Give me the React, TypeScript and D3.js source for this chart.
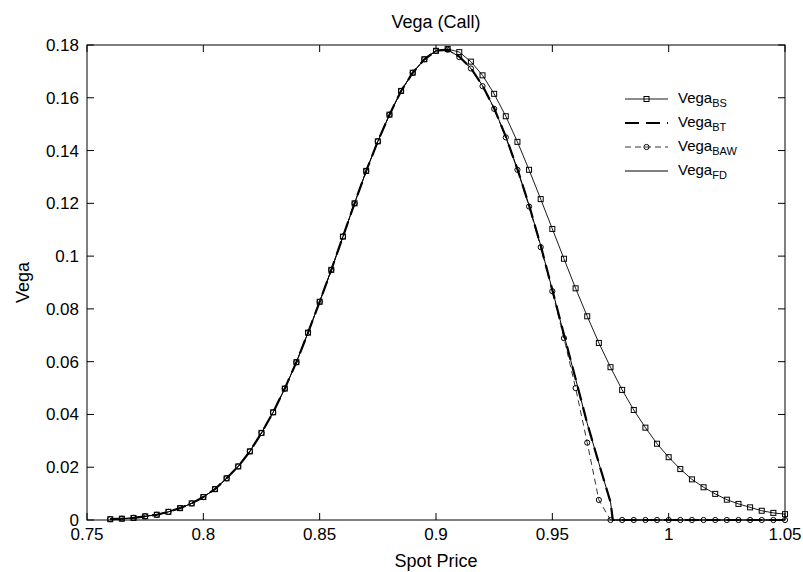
import React from "react";
import * as d3 from "d3";

const spotPrices = [
  0.76, 0.765, 0.77, 0.775, 0.78, 0.785, 0.79, 0.795, 0.8, 0.805, 0.81, 0.815, 0.82, 0.825, 0.83,
  0.835, 0.84, 0.845, 0.85, 0.855, 0.86, 0.865, 0.87, 0.875, 0.88, 0.885, 0.89, 0.895, 0.9, 0.905,
  0.91, 0.915, 0.92, 0.925, 0.93, 0.935, 0.94, 0.945, 0.95, 0.955, 0.96, 0.965, 0.97, 0.975, 0.98,
  0.985, 0.99, 0.995, 1.0, 1.005, 1.01, 1.015, 1.02, 1.025, 1.03, 1.035, 1.04, 1.045, 1.05,
];

const vegaBS = [
  0.0003, 0.0005, 0.0008, 0.0014, 0.002, 0.0031, 0.0045, 0.0063, 0.0087, 0.0117, 0.0158, 0.0203, 0.026, 0.033, 0.0408,
  0.0498, 0.0598, 0.071, 0.0827, 0.0948, 0.1074, 0.12, 0.1323, 0.1435, 0.1536, 0.1626, 0.1695, 0.1746, 0.1778, 0.1785,
  0.1773, 0.1737, 0.1685, 0.1615, 0.153, 0.1433, 0.1327, 0.1216, 0.1103, 0.099, 0.0878, 0.0772, 0.0671, 0.0579, 0.0493,
  0.0417, 0.035, 0.0289, 0.0238, 0.0193, 0.0154, 0.0124, 0.0099, 0.0077, 0.0061, 0.0048, 0.0035, 0.0027, 0.0022,
];

const vegaBAW = [
  0.0003, 0.0005, 0.0008, 0.0014, 0.002, 0.0031, 0.0045, 0.0063, 0.0087, 0.0117, 0.0158, 0.0203, 0.026, 0.033, 0.0408,
  0.0498, 0.0598, 0.071, 0.0827, 0.0948, 0.1074, 0.12, 0.1323, 0.1435, 0.1536, 0.1626, 0.1695, 0.1746, 0.1778, 0.1782,
  0.1754, 0.1711, 0.1644, 0.1558, 0.145, 0.1327, 0.1188, 0.1034, 0.0867, 0.0689, 0.05, 0.0293, 0.0076, 0, 0,
  0, 0, 0, 0, 0, 0, 0, 0, 0, 0, 0, 0, 0, 0,
];

const fdSpots = [
  0.76, 0.765, 0.77, 0.775, 0.78, 0.785, 0.79, 0.795, 0.8, 0.805, 0.81, 0.815, 0.82, 0.825, 0.83,
  0.835, 0.84, 0.845, 0.85, 0.855, 0.86, 0.865, 0.87, 0.875, 0.88, 0.885, 0.89, 0.895, 0.9, 0.905,
  0.91, 0.915, 0.92, 0.925, 0.93, 0.935, 0.94, 0.945, 0.95, 0.955, 0.96, 0.965, 0.97, 0.975, 0.976,
  0.98, 0.985, 0.99, 0.995, 1.0, 1.005, 1.01, 1.015, 1.02, 1.025, 1.03, 1.035, 1.04, 1.045, 1.05,
];

const vegaBT = [
  0.0003, 0.0005, 0.0008, 0.0014, 0.002, 0.0031, 0.0045, 0.0063, 0.0087, 0.0117, 0.0158, 0.0203, 0.026, 0.033, 0.0408,
  0.0498, 0.0598, 0.071, 0.0827, 0.0948, 0.1074, 0.12, 0.1323, 0.1435, 0.1536, 0.1626, 0.1695, 0.1746, 0.1778, 0.1782,
  0.1756, 0.1712, 0.1646, 0.156, 0.1453, 0.133, 0.1193, 0.104, 0.0872, 0.0702, 0.0535, 0.0366, 0.0215, 0.0068, 0,
  0, 0, 0, 0, 0, 0, 0, 0, 0, 0, 0, 0, 0, 0, 0,
];

const vegaFD = [
  0.0003, 0.0005, 0.0008, 0.0014, 0.002, 0.0031, 0.0045, 0.0063, 0.0087, 0.0117, 0.0158, 0.0203, 0.026, 0.033, 0.0408,
  0.0498, 0.0598, 0.071, 0.0827, 0.0948, 0.1074, 0.12, 0.1323, 0.1435, 0.1536, 0.1626, 0.1695, 0.1746, 0.1778, 0.1782,
  0.1756, 0.1712, 0.1646, 0.156, 0.1453, 0.133, 0.1193, 0.104, 0.0872, 0.0702, 0.0535, 0.0366, 0.0215, 0.0068, 0,
  0, 0, 0, 0, 0, 0, 0, 0, 0, 0, 0, 0, 0, 0, 0,
];

const xTicks = [0.75, 0.8, 0.85, 0.9, 0.95, 1, 1.05];
const yTicks = [0, 0.02, 0.04, 0.06, 0.08, 0.1, 0.12, 0.14, 0.16, 0.18];

const W = 803;
const H = 572;
const L = 87;
const R = 785;
const T = 45;
const B = 520;
const FONT = "'Liberation Sans', Arial, Helvetica, sans-serif";

export default function App() {
  const x = d3.scaleLinear().domain([0.75, 1.05]).range([L, R]);
  const y = d3.scaleLinear().domain([0, 0.18]).range([B, T]);
  const line = d3
    .line<[number, number]>()
    .x((d) => x(d[0]))
    .y((d) => y(d[1]));

  const bsPts = spotPrices.map((s, i) => [s, vegaBS[i]] as [number, number]);
  const bawPts = spotPrices.map((s, i) => [s, vegaBAW[i]] as [number, number]);
  const btPts = fdSpots.map((s, i) => [s, vegaBT[i]] as [number, number]);
  const fdPts = fdSpots.map((s, i) => [s, vegaFD[i]] as [number, number]);

  const fmt = (v: number) => String(v);
  const tickLen = 7;
  const sq = 5;

  const legendItems = [
    { name: "BS", kind: "bs" },
    { name: "BT", kind: "bt" },
    { name: "BAW", kind: "baw" },
    { name: "FD", kind: "fd" },
  ];
  const legX1 = 625;
  const legX2 = 668;
  const legTx = 678;
  const legY0 = 99;
  const legDy = 24;

  return (
    <svg
      width={W}
      height={H}
      style={{ position: "absolute", left: 0, top: 0, background: "#fff" }}
      fontFamily={FONT}
    >
      <rect x={0} y={0} width={W} height={H} fill="#fff" />
      {/* series */}
      <path d={line(bsPts) || ""} fill="none" stroke="#000" strokeWidth={0.9} />
      {bsPts.map((p, i) => (
        <rect
          key={"s" + i}
          x={x(p[0]) - sq / 2}
          y={y(p[1]) - sq / 2}
          width={sq}
          height={sq}
          fill="none"
          stroke="#000"
          strokeWidth={1}
        />
      ))}
      <path d={line(btPts) || ""} fill="none" stroke="#000" strokeWidth={2.2} strokeDasharray="14,7" />
      <path d={line(bawPts) || ""} fill="none" stroke="#000" strokeWidth={0.8} strokeDasharray="6,4" />
      {bawPts.map((p, i) => (
        <circle key={"c" + i} cx={x(p[0])} cy={y(p[1])} r={2.6} fill="none" stroke="#000" strokeWidth={1} />
      ))}
      <path d={line(fdPts) || ""} fill="none" stroke="#000" strokeWidth={1} />

      {/* box */}
      <rect x={L} y={T} width={R - L} height={B - T} fill="none" stroke="#000" strokeWidth={1} />
      {xTicks.map((t) => (
        <g key={"xt" + t}>
          <line x1={x(t)} x2={x(t)} y1={B} y2={B - tickLen} stroke="#000" />
          <line x1={x(t)} x2={x(t)} y1={T} y2={T + tickLen} stroke="#000" />
          <text x={x(t)} y={540} fontSize={17} textAnchor="middle" fill="#000">
            {fmt(t)}
          </text>
        </g>
      ))}
      {yTicks.map((t) => (
        <g key={"yt" + t}>
          <line x1={L} x2={L + tickLen} y1={y(t)} y2={y(t)} stroke="#000" />
          <line x1={R} x2={R - tickLen} y1={y(t)} y2={y(t)} stroke="#000" />
          <text x={79} y={y(t) + 6} fontSize={17} textAnchor="end" fill="#000">
            {fmt(t)}
          </text>
        </g>
      ))}

      <text x={(L + R) / 2} y={27.5} fontSize={18} textAnchor="middle" fill="#000">
        Vega (Call)
      </text>
      <text x={(L + R) / 2} y={566.5} fontSize={18} textAnchor="middle" fill="#000">
        Spot Price
      </text>
      <text
        transform={`translate(28.5,${(T + B) / 2}) rotate(-90)`}
        fontSize={18}
        textAnchor="middle"
        fill="#000"
      >
        Vega
      </text>

      {/* legend */}
      {legendItems.map((it, i) => {
        const ly = legY0 + i * legDy;
        const mx = (legX1 + legX2) / 2;
        return (
          <g key={"lg" + it.name}>
            {it.kind === "bs" && (
              <>
                <line x1={legX1} x2={legX2} y1={ly} y2={ly} stroke="#000" strokeWidth={0.9} />
                <rect x={mx - sq / 2} y={ly - sq / 2} width={sq} height={sq} fill="none" stroke="#000" />
              </>
            )}
            {it.kind === "bt" && (
              <line x1={legX1} x2={legX2} y1={ly} y2={ly} stroke="#000" strokeWidth={2.2} strokeDasharray="14,7" />
            )}
            {it.kind === "baw" && (
              <>
                <line x1={legX1} x2={legX2} y1={ly} y2={ly} stroke="#000" strokeWidth={0.8} strokeDasharray="6,4" />
                <circle cx={mx} cy={ly} r={2.6} fill="none" stroke="#000" />
              </>
            )}
            {it.kind === "fd" && (
              <line x1={legX1} x2={legX2} y1={ly} y2={ly} stroke="#000" strokeWidth={1} />
            )}
            <text x={legTx} y={ly + 4} fontSize={15} fill="#000">
              Vega
              <tspan fontSize={11} dy={4}>
                {it.name}
              </tspan>
            </text>
          </g>
        );
      })}
    </svg>
  );
}
